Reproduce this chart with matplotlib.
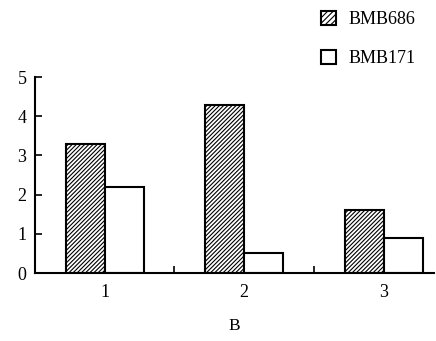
import matplotlib.pyplot as plt
import numpy as np
from matplotlib.patches import Patch

categories = ['1', '2', '3']
bmb686 = [3.3, 4.3, 1.6]
bmb171 = [2.2, 0.52, 0.9]
series_names = ['BMB686', 'BMB171']

plt.rcParams['font.family'] = 'Liberation Serif'
plt.rcParams['hatch.linewidth'] = 0.8

fig = plt.figure(figsize=(4.36, 3.41), dpi=100)
ax = fig.add_axes([0.080, 0.199, 0.915, 0.575])

x = np.arange(1, len(categories) + 1)
w = 0.28
ax.bar(x - w / 2, bmb686, w, color='white', edgecolor='black', hatch='////////', linewidth=1.5)
ax.bar(x + w / 2, bmb171, w, color='white', edgecolor='black', linewidth=1.5)

ax.set_xlim(0.5, 3.36)
ax.set_ylim(0, 5)
ax.set_yticks(range(0, 6))
ax.set_xticks(x)
ax.set_xticklabels(categories)
ax.set_xticks([1.5, 2.5], minor=True)
ax.tick_params(axis='x', which='major', length=0, labelsize=13, pad=8)
ax.tick_params(axis='x', which='minor', direction='in', length=5, width=1.2)
ax.tick_params(axis='y', direction='in', length=5, width=1.2, labelsize=13, pad=6)
for s in ['top', 'right']:
    ax.spines[s].set_visible(False)
for s in ['left', 'bottom']:
    ax.spines[s].set_linewidth(1.5)
ax.set_xlabel('B', fontsize=12.5, labelpad=12)

handles = [Patch(facecolor='white', edgecolor='black', hatch='//////', linewidth=1.5),
           Patch(facecolor='white', edgecolor='black', linewidth=1.5)]
fig.legend(handles, series_names, loc='upper left', bbox_to_anchor=(0.70, 1.015),
           frameon=False, fontsize=13, handlelength=0.8, handleheight=0.8,
           handletextpad=0.7, labelspacing=1.2)

fig.savefig('out.png', dpi=100)
